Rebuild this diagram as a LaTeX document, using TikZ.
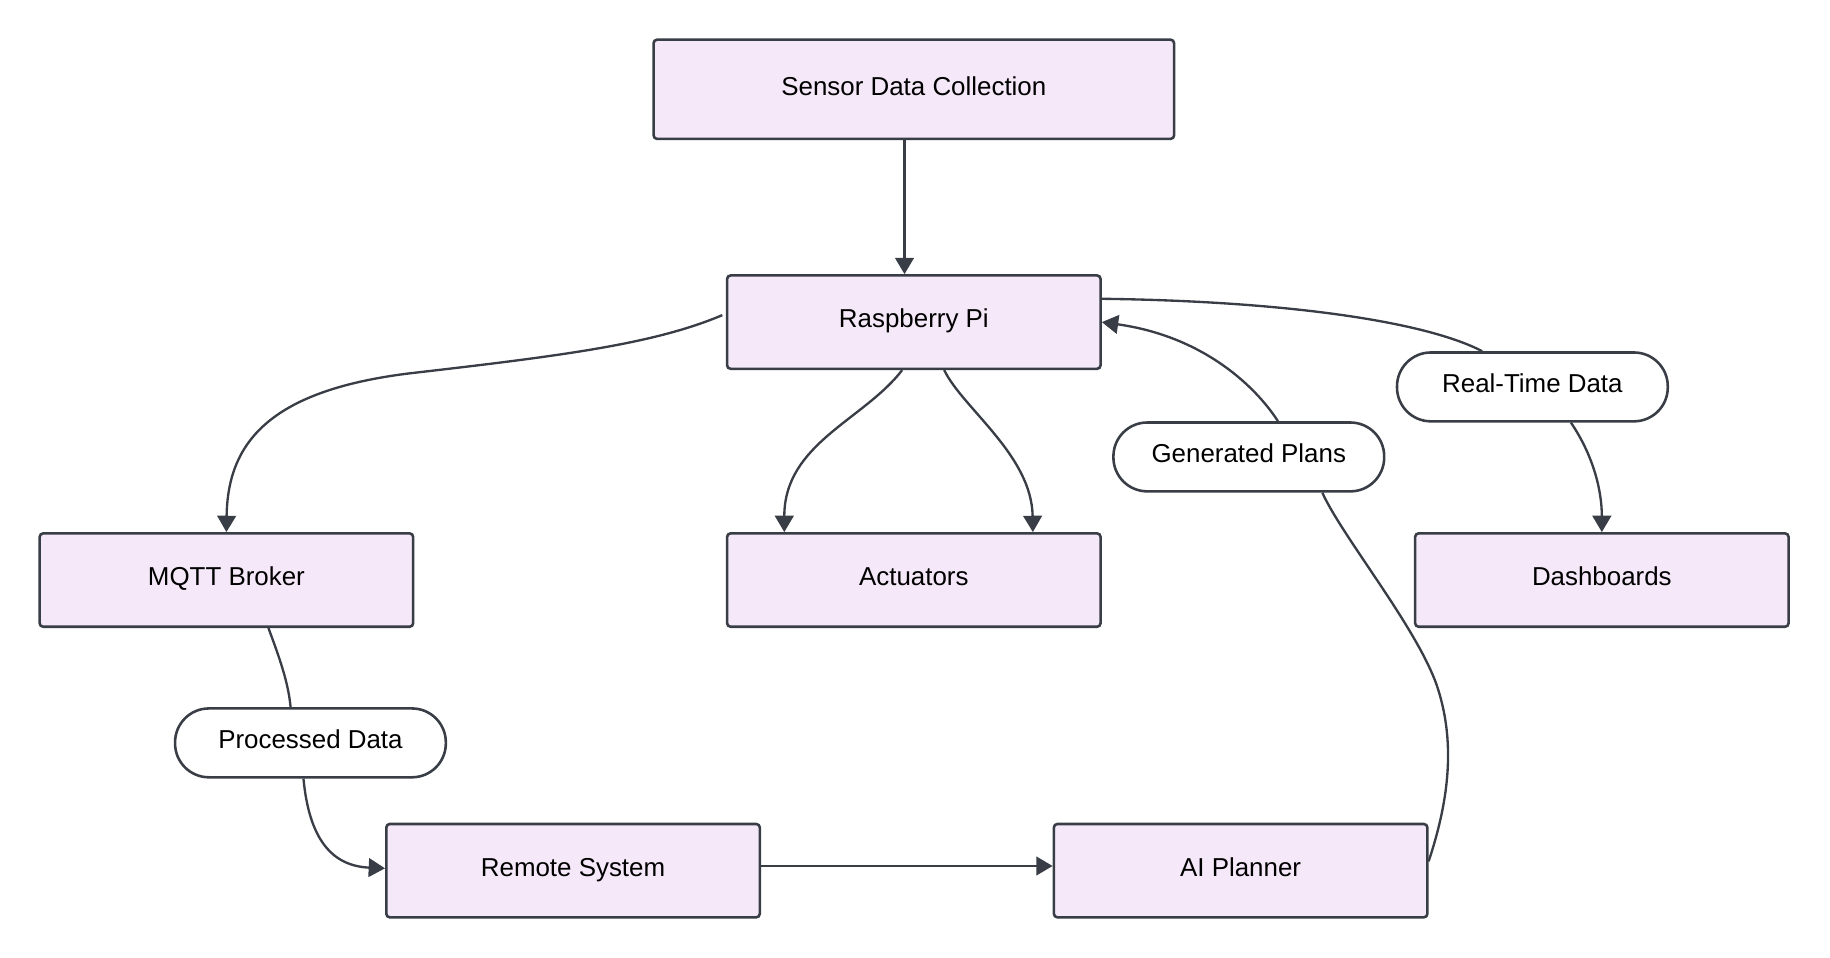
\documentclass[tikz,border=0pt]{standalone}
\usepackage{fontspec}
\setmainfont{Liberation Sans}
\usetikzlibrary{arrows.meta}
\definecolor{boxfill}{HTML}{F5E8F8}
\definecolor{linec}{HTML}{383D46}
\begin{document}
\begin{tikzpicture}[x=1pt,y=-1pt,
 txt/.style={font=\fontsize{22.2}{26}\selectfont,text height=16pt,text depth=6pt},
 box/.style={txt,draw=linec,fill=boxfill,line width=2.2pt,rounded corners=3pt,minimum width=320pt,minimum height=80pt,inner sep=0pt},
 pill/.style={txt,draw=linec,fill=white,line width=2.2pt,rounded corners=29pt,minimum width=232pt,minimum height=59pt,inner sep=0pt},
 conn/.style={draw=linec,line width=2pt},
 arr/.style={conn,-{Triangle[length=14pt,width=16pt]}}]
\useasboundingbox (0,0) rectangle (1568,820);
\node[box,minimum width=446pt,minimum height=85pt] (sensor) at (783,76.5) {Sensor Data Collection};
\node[box] (rpi) at (783,276) {Raspberry Pi};
\node[box] (mqtt) at (194,497) {MQTT Broker};
\node[box] (act) at (783,497) {Actuators};
\node[box] (dash) at (1372.5,497) {Dashboards};
\node[box] (remote) at (491,746) {Remote System};
\node[box] (ai) at (1063,746) {AI Planner};
\node[pill] (lrt) at (1313,331.5) {Real-Time Data};
\node[pill] (lgp) at (1070,391.5) {Generated Plans};
\node[pill] (lpd) at (266,636.5) {Processed Data};

\draw[arr] ([xshift=-8pt]sensor.south) -- ([xshift=-8pt]rpi.north);
\draw[arr] ([xshift=-3pt,yshift=6pt]rpi.west) .. controls (560,295) and (480,305) .. (350,320) .. controls (230,335) and (195,380) .. (mqtt.north);
\draw[arr] ([xshift=-10pt]rpi.south) .. controls (740,360) and (672,380) .. ([xshift=-111pt]act.north);
\draw[arr] ([xshift=26pt]rpi.south) .. controls (825,350) and (884,390) .. ([xshift=102pt]act.north);
\draw[conn] ([yshift=20pt]rpi.east) .. controls (1100,258) and (1220,275) .. ([xshift=-43pt]lrt.north);
\draw[arr] ([xshift=33pt]lrt.south) .. controls (1365,390) and (1372.5,420) .. (dash.north);
\draw[conn] ([yshift=8pt]ai.east) .. controls (1240,690) and (1248,640) .. (1232,590) .. controls (1216,540) and (1150,460) .. ([xshift=63pt]lgp.south);
\draw[arr] ([xshift=25pt]lgp.north) .. controls (1075,330) and (1030,288) .. (rpi.east);
\draw[conn] ([xshift=36pt]mqtt.south) .. controls (240,565) and (247,585) .. ([xshift=-17pt]lpd.north);
\draw[arr] ([xshift=-6pt]lpd.south) .. controls (265,720) and (285,742) .. ([yshift=2pt]remote.west);
\draw[arr] ([yshift=4pt]remote.east) -- ([yshift=4pt]ai.west);
\end{tikzpicture}
\end{document}
